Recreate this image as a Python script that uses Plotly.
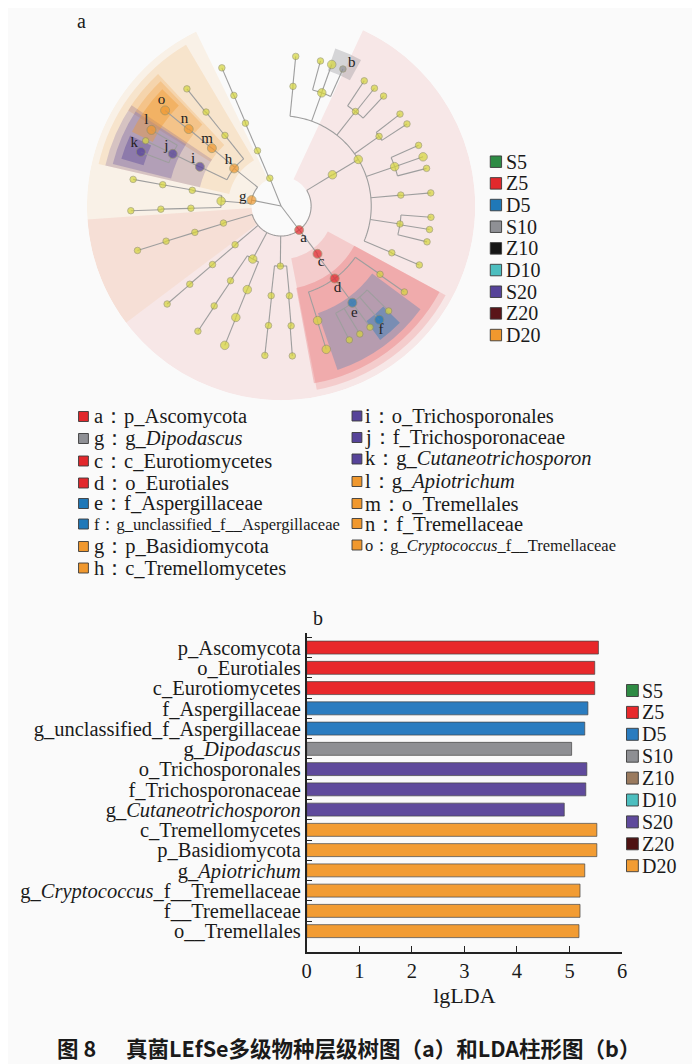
import numpy as np
import plotly.graph_objects as go

# page body adds an 8 px margin, so the figure is drawn 8 px in from the window edge
OFF = 8
W, H = 700 - OFF, 1064 - OFF
FONT = "Liberation Serif"
CJK = "Noto Sans CJK SC"
BG = "#FAFAFA"
YELLOW = "#D6D63A"
LINE = "#9E9E9E"

# groups and their colours (cladogram legend / bar legend)
GROUPS = ["S5", "Z5", "D5", "S10", "Z10", "D10", "S20", "Z20", "D20"]
COLORS_A = ["#2E8B44", "#E2282C", "#1F78B8", "#8F9095", "#151515",
            "#4CBEBF", "#564399", "#5A1518", "#F0982E"]
COLORS_B = ["#2E8B44", "#E8282B", "#2A7CC0", "#8E8F93", "#9A7A5E",
            "#4CBEBF", "#5F4A9C", "#4E1212", "#F29C33"]

# ---- cladogram: nodes (angle in degrees, depth from parent chain)
node_id = [
    "root",
    "a", "A1", "A1o", "A1f", "A1g",
    "A2", "A2o", "A2f", "A2g",
    "A3", "A3o1", "A3f1", "A3g1", "A3o2", "A3f2", "A3g2",
    "A4", "A4o1", "A4f1", "A4g1", "A4o2", "A4f2", "A4g2",
    "c", "d", "D1", "D1g", "e", "E1", "f", "E2", "E3", "E4", "D2", "D2g",
    "A5", "A5o", "F1", "F1g", "F2", "F2g1", "F2g2", "b", "F3", "F3g1", "F3g2", "F3g3",
    "F4", "F4g1", "F4g2", "F5", "F5g1", "F5g2", "F5g3", "F6", "F6g1",
    "F7", "F7g1", "F7g2", "F7g3", "F8", "F8g1",
    "g", "h", "H1", "H1f", "H1g", "m", "n", "o", "i", "j", "l", "J1", "k",
    "B2", "B2o1", "B2f1", "B2g1", "B2o2", "B2f2", "B2g2",
    "P3", "P3c", "P3o", "P3f", "P3g",
]
node_parent = [
    None,
    "root", "a", "A1", "A1o", "A1f",
    "a", "A2", "A2o", "A2f",
    "a", "A3", "A3o1", "A3f1", "A3", "A3o2", "A3f2",
    "a", "A4", "A4o1", "A4f1", "A4", "A4o2", "A4f2",
    "a", "c", "d", "D1", "d", "e", "e", "e", "e", "e", "d", "D2",
    "a", "A5", "A5o", "F1", "A5o", "F2", "F2", "F2", "A5o", "F3", "F3", "F3",
    "A5o", "F4", "F4", "A5o", "F5", "F5", "F5", "A5o", "F6",
    "A5o", "F7", "F7", "F7", "A5o", "F8",
    "root", "g", "h", "H1", "H1f", "h", "m", "n", "h", "i", "j", "j", "j",
    "g", "B2", "B2o1", "B2f1", "B2", "B2o2", "B2f2",
    "root", "P3", "P3c", "P3o", "P3f",
]
node_theta = [
    0,
    -53.0, -163.5, -163.0, -163.0, -162.8,
    -139.9, -139.5, -139.4, -139.3,
    -118.1, -124.1, -123.8, -123.6, -112.0, -112.1, -112.0,
    -90.7, -96.3, -96.0, -96.2, -84.7, -85.2, -85.7,
    -52.7, -53.5, -34.6, -34.9, -53.6, -44.3, -49.2, -53.7, -58.4, -63.0, -72.3, -72.5,
    31.3, 31.1, 84.3, 84.4, 70.2, 74.8, 70.3, 65.7, 51.8, 56.4, 51.6, 47.0,
    35.4, 37.7, 33.1, 19.1, 23.8, 19.1, 14.5, 5.2, 5.0,
    -8.6, -4.3, -9.0, -13.8, -22.9, -23.1,
    168.7, 141.3, 128.5, 128.6, 128.8, 140.1, 140.2, 140.5, 154.2, 154.3, 149.6, 154.3, 158.9,
    175.3, 170.0, 169.8, 169.8, 181.4, 181.5, 181.8,
    112.0, 113.1, 113.3, 113.1, 113.2,
]
big_nodes = ["A3", "A3o2", "A3f2", "A3g2", "D2", "D2g", "A5", "A5o",
             "F2", "F2g2", "F5", "F5g2", "B2"]

# biomarkers (letter on the tree, group)
marker_nodes = ["a", "c", "d", "e", "f", "b", "g", "h", "i", "j", "k", "l", "m", "n", "o"]
marker_groups = ["Z5", "Z5", "Z5", "D5", "D5", "S10", "D20", "D20",
                 "S20", "S20", "S20", "D20", "D20", "D20", "D20"]

# shaded clades (angular span)
hl_nodes = ["g", "a", "h", "m", "n", "o", "i", "j", "k", "l", "c", "d", "e", "f", "b"]
hl_theta0 = [116, 184, 120.5, 133, 134, 135.5, 146, 147, 155, 145.5, -79, -79.5, -71, -53.5, 61.3]
hl_theta1 = [217, 425, 167, 148, 147, 145.5, 167, 166, 163.5, 153.5, -28.5, -28.5, -36.5, -44.5, 71]

# ---- LDA bars
bar_labels = [
    "p_Ascomycota", "o_Eurotiales", "c_Eurotiomycetes", "f_Aspergillaceae",
    "g_unclassified_f_Aspergillaceae", "g_<i>Dipodascus</i>", "o_Trichosporonales",
    "f_Trichosporonaceae", "g_<i>Cutaneotrichosporon</i>", "c_Tremellomycetes",
    "p_Basidiomycota", "g_<i>Apiotrichum</i>", "g_<i>Cryptococcus</i>_f__Tremellaceae",
    "f__Tremellaceae", "o__Tremellales",
]
bar_values = [5.55, 5.48, 5.48, 5.35, 5.29, 5.04, 5.33, 5.31, 4.90,
              5.52, 5.52, 5.29, 5.20, 5.20, 5.18]
bar_groups = ["Z5", "Z5", "Z5", "D5", "D5", "S10", "S20", "S20", "S20",
              "D20", "D20", "D20", "D20", "D20", "D20"]

# ---- key list under the cladogram
key_left = ["a", "g", "c", "d", "e", "f", "g", "h"]
name_left = ["p_Ascomycota", "g_<i>Dipodascus</i>", "c_Eurotiomycetes", "o_Eurotiales",
             "f_Aspergillaceae", "g_unclassified_f__Aspergillaceae", "p_Basidiomycota",
             "c_Tremellomycetes"]
group_left = ["Z5", "S10", "Z5", "Z5", "D5", "D5", "D20", "D20"]
key_right = ["i", "j", "k", "l", "m", "n", "o"]
name_right = ["o_Trichosporonales", "f_Trichosporonaceae", "g_<i>Cutaneotrichosporon</i>",
              "g_<i>Apiotrichum</i>", "o_Tremellales", "f_Tremellaceae",
              "g_<i>Cryptococcus</i>_f__Tremellaceae"]
group_right = ["S20", "S20", "S20", "D20", "D20", "D20", "D20"]

LEVEL_R = [0, 30.5, 61, 91.5, 122, 152.5]
R_MAX = 197
CX, CY = 280, 206
LEVEL_ALPHA = {1: 0.09, 2: 0.14, 3: 0.2, 4: 0.28, 5: 0.4}


def rgba(hex_color, alpha):
    h = hex_color.lstrip("#")
    r, g, b = (int(h[i:i + 2], 16) for i in (0, 2, 4))
    return f"rgba({r},{g},{b},{alpha})"


def px(x):
    return (x - OFF) / W


def py(y):
    return 1 - (y - OFF) / H


col_a = dict(zip(GROUPS, COLORS_A))
col_b = dict(zip(GROUPS, COLORS_B))
parent = dict(zip(node_id, node_parent))
theta = dict(zip(node_id, node_theta))
depth = {}
for n in node_id:
    d, p = 0, parent[n]
    while p is not None:
        d, p = d + 1, parent[p]
    depth[n] = d
children = {}
for n in node_id:
    if parent[n] is not None:
        children.setdefault(parent[n], []).append(n)
mgroup = dict(zip(marker_nodes, marker_groups))

fig = go.Figure()

# shaded clades
sec_r, sec_base, sec_t, sec_w, sec_c = [], [], [], [], []
for n, t0, t1 in zip(hl_nodes, hl_theta0, hl_theta1):
    lv = depth[n]
    inner = 30 if lv == 1 else LEVEL_R[lv] - 7
    outer = R_MAX - 7 * (lv - 1)
    sec_base.append(inner)
    sec_r.append(outer - inner)
    sec_t.append((t0 + t1) / 2)
    sec_w.append(t1 - t0)
    a = 0.35 if mgroup[n] == "S10" else LEVEL_ALPHA[lv]
    sec_c.append(rgba(col_a[mgroup[n]], a))
fig.add_trace(go.Barpolar(r=sec_r, base=sec_base, theta=sec_t, width=sec_w,
                          marker=dict(color=sec_c, line=dict(width=0)),
                          hoverinfo="skip", showlegend=False))

# branches: arc at the parent radius, then radial spoke to each child
lr, lt = [], []
for p, kids in children.items():
    rp = LEVEL_R[depth[p]]
    if depth[p] > 0:
        angs = [theta[k] for k in kids] + [theta[p]]
        t0, t1 = min(angs), max(angs)
        if t1 - t0 > 0.2:
            ts = np.linspace(t0, t1, int((t1 - t0) / 1.5) + 2)
            lt += list(ts) + [None]
            lr += [rp] * len(ts) + [None]
    for k in kids:
        lt += [theta[k], theta[k], None]
        lr += [rp, LEVEL_R[depth[k]], None]
fig.add_trace(go.Scatterpolar(r=lr, theta=lt, mode="lines",
                              line=dict(color=LINE, width=1.1),
                              hoverinfo="skip", showlegend=False))

# nodes
nodes = [n for n in node_id if depth[n] > 0]
n_col, n_size = [], []
for n in nodes:
    if n in mgroup:
        n_col.append(col_a[mgroup[n]])
        n_size.append(6.5 if n == "b" else 9)
    else:
        n_col.append(YELLOW)
        n_size.append(8.5 if n in big_nodes else 6.5)
fig.add_trace(go.Scatterpolar(
    r=[LEVEL_R[depth[n]] for n in nodes], theta=[theta[n] for n in nodes],
    mode="markers", marker=dict(color=n_col, size=n_size,
                                line=dict(color="#8A8A60", width=0.8)),
    hoverinfo="skip", showlegend=False))

# letters beside the biomarker nodes
fig.add_trace(go.Scatterpolar(
    r=[LEVEL_R[depth[n]] + 9.5 for n in marker_nodes],
    theta=[theta[n] - 2 for n in marker_nodes],
    text=marker_nodes, mode="text",
    textfont=dict(family=FONT, size=15, color="#222"),
    hoverinfo="skip", showlegend=False))

# LDA bars
fig.add_trace(go.Bar(
    x=bar_values, y=bar_labels, orientation="h",
    marker=dict(color=[col_b[g] for g in bar_groups],
                line=dict(color="#444", width=0.7)),
    xaxis="x", yaxis="y", showlegend=False, hoverinfo="x+y"))

shapes, annotations = [], []


def key_square(cx, cy, size, color):
    shapes.append(dict(type="rect", xref="paper", yref="paper",
                       x0=px(cx - size / 2), x1=px(cx + size / 2),
                       y0=py(cy + size / 2), y1=py(cy - size / 2),
                       fillcolor=color, line=dict(color="#3A3A3A", width=0.9)))


def text(x, y, s, size, anchor="left", family=FONT, color="#1A1A1A"):
    annotations.append(dict(x=px(x), y=py(y), xref="paper", yref="paper",
                            text=s, showarrow=False, xanchor=anchor,
                            yanchor="middle", borderpad=0,
                            font=dict(family=family, size=size, color=color)))


# group legends
for i, g in enumerate(GROUPS):
    ya = 161.7 + 21.67 * i
    key_square(498, ya, 11.5, col_a[g])
    text(507, ya, g, 20)
    yb = 690.5 + 21.9 * i
    key_square(636.5, yb, 12, col_b[g])
    text(645.5, yb, g, 20)

# biomarker key list
rows_left = [416.5, 438.5, 461, 483, 503.5, 524, 546.5, 568]
rows_right = [416, 437.5, 459, 481.5, 503.5, 523.5, 545]
for k, nm, g, y in zip(key_left, name_left, group_left, rows_left):
    key_square(79.5, y, 10, col_a[g])
    small = "unclassified" in nm
    text(89, y, f"{k}：{nm}", 16.5 if small else 20.5)
for k, nm, g, y in zip(key_right, name_right, group_right, rows_right):
    key_square(357, y, 10, col_a[g])
    small = "Cryptococcus" in nm
    text(364, y, f"{k}：{nm}", 16.5 if small else 20.5)

# panel letters and caption
text(78, 21, "a", 20, anchor="center")
text(317, 618, "b", 20, anchor="center")
text(52, 1047, "<b>图 8</b>", 21.5, family=CJK)
text(122, 1047, "<b>真菌LEfSe多级物种层级树图（a）和LDA柱形图（b）</b>", 21.5, family=CJK)

tick_font = dict(family=FONT, size=20.5, color="#1A1A1A")
fig.update_layout(
    width=W, height=H, margin=dict(l=0, r=0, t=0, b=0),
    paper_bgcolor=BG, plot_bgcolor=BG, showlegend=False,
    bargap=0.36,
    polar=dict(
        domain=dict(x=[px(CX - R_MAX), px(CX + R_MAX)],
                    y=[py(CY + R_MAX), py(CY - R_MAX)]),
        bgcolor="rgba(0,0,0,0)", barmode="overlay",
        radialaxis=dict(visible=False, range=[0, R_MAX]),
        angularaxis=dict(visible=False, direction="counterclockwise", rotation=0),
    ),
    xaxis=dict(domain=[px(306), px(626)], range=[0, 6], dtick=1, anchor="y",
               ticks="inside", ticklen=6, tickwidth=1.3, tickcolor="#222",
               showline=True, linecolor="#222", linewidth=1.5,
               showgrid=False, zeroline=False, tickfont=tick_font,
               title=dict(text="lgLDA", font=dict(family=FONT, size=22, color="#1A1A1A"),
                          standoff=6)),
    yaxis=dict(domain=[py(952), py(633)], anchor="x", type="category",
               categoryorder="array", categoryarray=bar_labels,
               range=[15.03, -0.72], tickson="boundaries",
               tickmode="linear", tick0=0, dtick=1,
               ticks="inside", ticklen=6, tickwidth=1.3, tickcolor="#222",
               showline=True, linecolor="#222", linewidth=1.5,
               showgrid=False, zeroline=False, tickfont=tick_font),
    shapes=shapes, annotations=annotations,
)

fig.write_html("out.html")
